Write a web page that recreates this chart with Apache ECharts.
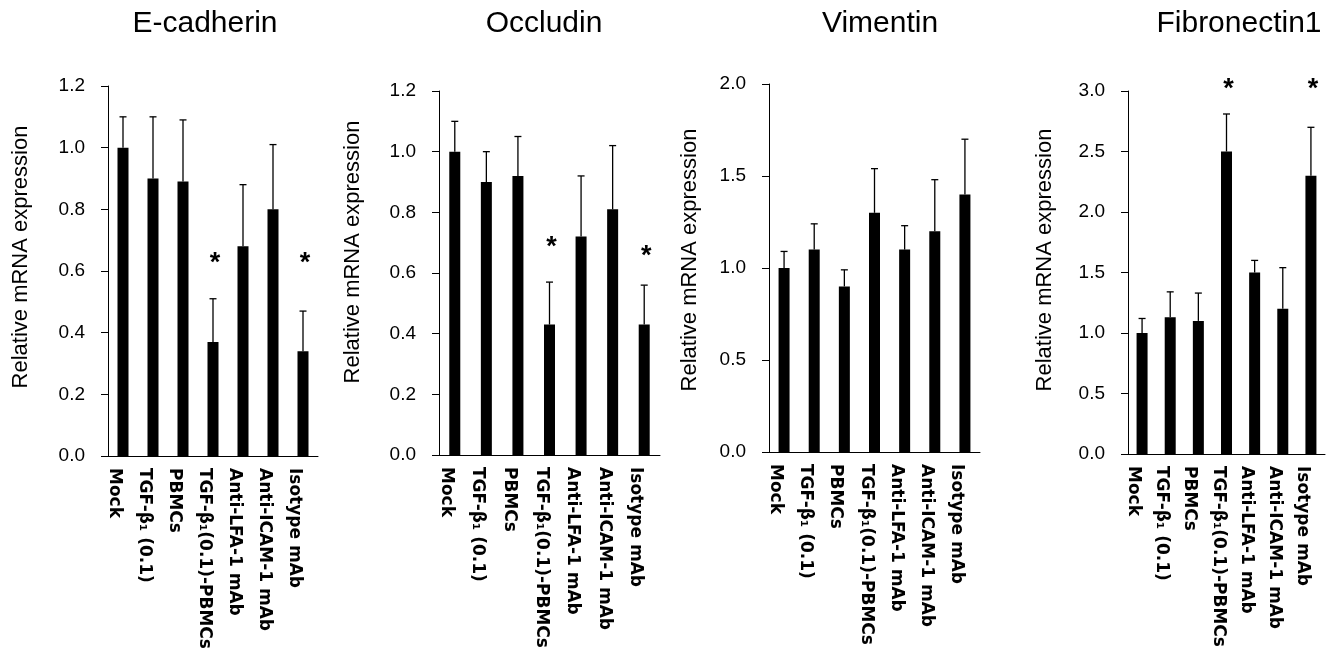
<!DOCTYPE html>
<html>
<head>
<meta charset="utf-8">
<script src="https://cdn.jsdelivr.net/npm/echarts@6/dist/echarts.min.js"></script>
<style>
  html, body { margin: 0; padding: 0; background: #fff; }
  #main { width: 1326px; height: 653px; }
</style>
</head>
<body>
<div id="main"></div>
<script>
// categories shared by all four panels
var categories = ['Mock', 'TGF-β₁ (0.1)', 'PBMCs', 'TGF-β₁(0.1)-PBMCs', 'Anti-LFA-1 mAb', 'Anti-ICAM-1 mAb', 'Isotype mAb'];
var panelTitles = ['E-cadherin', 'Occludin', 'Vimentin', 'Fibronectin1'];

// bar means and top of error bars (mean + SD)
var ecadMean = [1.00, 0.90, 0.89, 0.37, 0.68, 0.80, 0.34];
var ecadTop  = [1.10, 1.10, 1.09, 0.51, 0.88, 1.01, 0.47];
var occMean  = [1.00, 0.90, 0.92, 0.43, 0.72, 0.81, 0.43];
var occTop   = [1.10, 1.00, 1.05, 0.57, 0.92, 1.02, 0.56];
var vimMean  = [1.00, 1.10, 0.90, 1.30, 1.10, 1.20, 1.40];
var vimTop   = [1.09, 1.24, 0.99, 1.54, 1.23, 1.48, 1.70];
var fnMean   = [1.00, 1.13, 1.10, 2.50, 1.50, 1.20, 2.30];
var fnTop    = [1.12, 1.34, 1.33, 2.81, 1.60, 1.54, 2.70];

// significance stars: [category index, height]
var ecadStars = [[3, 0.64], [6, 0.64]];
var occStars  = [[3, 0.70], [6, 0.67]];
var vimStars  = [];
var fnStars   = [[3, 3.05], [6, 3.05]];

// y axis ranges
var yMax  = [1.2, 1.2, 2.0, 3.0];
var yStep = [0.2, 0.2, 0.5, 0.5];

var means = [ecadMean, occMean, vimMean, fnMean];
var tops = [ecadTop, occTop, vimTop, fnTop];
var stars = [ecadStars, occStars, vimStars, fnStars];

// layout of each panel (pixels)
var grids = [
  { left: 108, top: 86, width: 210, height: 370 },
  { left: 439, top: 91, width: 221, height: 364 },
  { left: 769, top: 84, width: 211, height: 368 },
  { left: 1128, top: 91, width: 197, height: 363 }
];
var titleX = [200, 539, 875, 1234];
var nameX = [21, 353, 690, 1045];
var nameY = [257, 252, 260, 260];

var chart = echarts.init(document.getElementById('main'));

var option = {
  animation: false,
  backgroundColor: '#fff',
  title: [],
  grid: [],
  xAxis: [],
  yAxis: [],
  series: [],
  graphic: []
};

grids.forEach(function (g, i) {
  option.title.push({
    text: panelTitles[i],
    left: titleX[i],
    top: 4,
    textAlign: 'center',
    textStyle: { fontFamily: 'Liberation Sans', fontSize: 30, fontWeight: 'normal', color: '#000' }
  });
  option.grid.push({ left: g.left, top: g.top, width: g.width, height: g.height });
  option.xAxis.push({
    type: 'category',
    gridIndex: i,
    data: categories,
    axisLine: { lineStyle: { color: '#000', width: 1 } },
    axisTick: { length: 6, lineStyle: { color: '#000' } },
    axisLabel: {
      interval: 0,
      rotate: -90,
      margin: 12,
      verticalAlign: 'top',
      fontFamily: 'DejaVu Sans',
      fontWeight: 'bold',
      fontSize: 17,
      color: '#000'
    }
  });
  option.yAxis.push({
    type: 'value',
    gridIndex: i,
    min: 0,
    max: yMax[i],
    interval: yStep[i],
    splitLine: { show: false },
    axisLine: { show: true, lineStyle: { color: '#000', width: 1 } },
    axisTick: { show: true, length: 7, lineStyle: { color: '#000' } },
    axisLabel: {
      margin: 23,
      fontFamily: 'Liberation Sans',
      fontSize: 19,
      color: '#000',
      formatter: function (v) { return v.toFixed(1); }
    }
  });
  option.graphic.push({
    type: 'text',
    x: nameX[i],
    y: nameY[i],
    rotation: Math.PI / 2,
    style: {
      text: 'Relative mRNA expression',
      fontFamily: 'Liberation Sans',
      fontSize: 22,
      fill: '#000',
      textAlign: 'center',
      textVerticalAlign: 'middle'
    }
  });

  option.series.push({
    type: 'bar',
    xAxisIndex: i,
    yAxisIndex: i,
    data: means[i],
    barWidth: 11,
    itemStyle: { color: '#000' }
  });
  option.series.push({
    type: 'custom',
    xAxisIndex: i,
    yAxisIndex: i,
    data: means[i].map(function (m, k) { return [k, m, tops[i][k]]; }),
    renderItem: function (params, api) {
      var base = api.coord([api.value(0), api.value(1)]);
      var top = api.coord([api.value(0), api.value(2)]);
      var st = { stroke: '#000', lineWidth: 1.3 };
      return {
        type: 'group',
        children: [
          { type: 'line', shape: { x1: base[0], y1: base[1], x2: top[0], y2: top[1] }, style: st },
          { type: 'line', shape: { x1: top[0] - 3.5, y1: top[1], x2: top[0] + 3.5, y2: top[1] }, style: st }
        ]
      };
    },
    z: 3
  });
  option.series.push({
    type: 'custom',
    xAxisIndex: i,
    yAxisIndex: i,
    data: stars[i],
    clip: false,
    renderItem: function (params, api) {
      var p = api.coord([api.value(0), api.value(1)]);
      return {
        type: 'text',
        x: p[0] + 2,
        y: p[1] + 5,
        style: {
          text: '*',
          fontFamily: 'Liberation Sans',
          fontWeight: 'bold',
          fontSize: 27,
          fill: '#000',
          align: 'center',
          verticalAlign: 'middle'
        }
      };
    },
    z: 4
  });
});

chart.setOption(option);
</script>
</body>
</html>
